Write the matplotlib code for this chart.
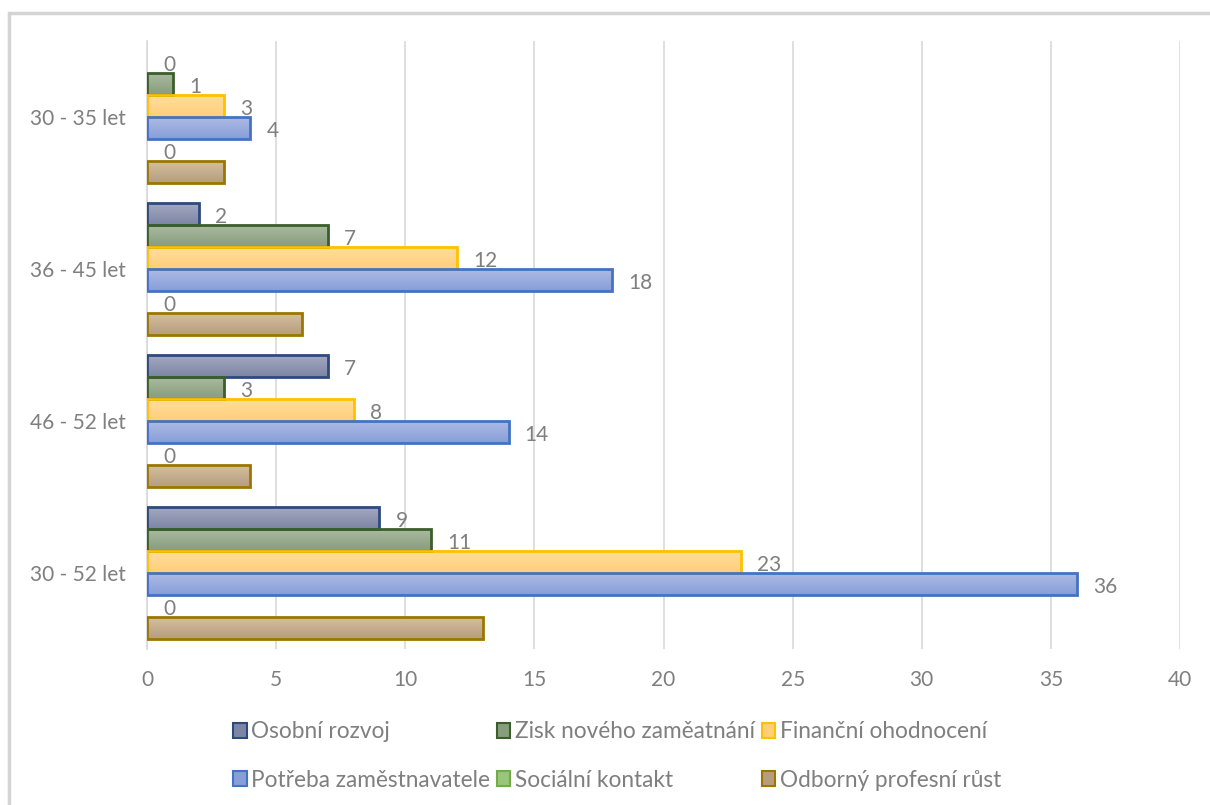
import numpy as np
import matplotlib
matplotlib.use("Agg")
import matplotlib.pyplot as plt
from matplotlib.colors import LinearSegmentedColormap
from matplotlib.patches import Patch, Rectangle

plt.rcParams['font.family'] = ['Lato', 'DejaVu Sans']

categories = ['30 - 35 let', '36 - 45 let', '46 - 52 let', '30 - 52 let']
series_names = ['Osobní rozvoj', 'Zisk nového zaměatnání', 'Finanční ohodnocení',
                'Potřeba zaměstnavatele', 'Sociální kontakt', 'Odborný profesní růst']

osobni_rozvoj = [0, 2, 7, 9]
zisk_zamestnani = [1, 7, 3, 11]
financni_ohodnoceni = [3, 12, 8, 23]
potreba_zamestnavatele = [4, 18, 14, 36]
socialni_kontakt = [0, 0, 0, 0]
odborny_rust = [3, 6, 4, 13]

values = [osobni_rozvoj, zisk_zamestnani, financni_ohodnoceni,
          potreba_zamestnavatele, socialni_kontakt, odborny_rust]
# which series get value labels (the last one has none)
show_labels = [True, True, True, True, True, False]

# (top colour, bottom colour, edge colour)
styles = [
    ('#a4a9c0', '#7c85a5', '#2e4a7d'),
    ('#aabaa0', '#879d7b', '#3b5f2b'),
    ('#ffdd9e', '#ffcf78', '#ffc000'),
    ('#adbbe4', '#879ed9', '#4472c4'),
    ('#b5d99c', '#98c77a', '#70ad47'),
    ('#d3bf9f', '#b79d7c', '#9c7700'),
]

text_grey = '#7f7f7f'
grid_grey = '#d9d9d9'

fig = plt.figure(figsize=(12.1, 8.05), dpi=100)
ax = fig.add_axes([147 / 1210, 1 - 649 / 805, (1180 - 147) / 1210, (649 - 41) / 805])

y = np.arange(len(categories))
n = len(values)
bar_h = 0.862 / n

for i, (vals, (c_top, c_bot, c_edge)) in enumerate(zip(values, styles)):
    offs = -0.431 + (i + 0.5) * bar_h
    edges = [c_edge if v > 0 else 'none' for v in vals]
    bars = ax.barh(y + offs, vals, height=bar_h, facecolor='none',
                   edgecolor=edges, linewidth=2, zorder=3)
    cmap = LinearSegmentedColormap.from_list('g%d' % i, [c_top, c_bot])
    grad = np.linspace(0, 1, 64).reshape(-1, 1)
    for rect, v in zip(bars, vals):
        if v <= 0:
            continue
        x0, y0 = rect.get_x(), rect.get_y()
        im = ax.imshow(grad, extent=(x0, x0 + rect.get_width(), y0, y0 + rect.get_height()),
                       origin='lower', cmap=cmap, aspect='auto', interpolation='bicubic',
                       zorder=2)
        im.set_clip_path(rect)
    if show_labels[i]:
        for yy, v in zip(y + offs, vals):
            ax.annotate(str(v), (v, yy), xytext=(16, -3), textcoords='offset pixels',
                        ha='left', va='center', fontsize=15, color=text_grey)

ax.set_xlim(0, 40)
ax.set_ylim(len(categories) - 0.5, -0.5)
ax.set_xticks(np.arange(0, 41, 5))
ax.set_yticks(y)
ax.set_yticklabels(categories)
ax.tick_params(axis='both', length=0, labelsize=15, colors=text_grey)
ax.tick_params(axis='x', pad=15)
ax.tick_params(axis='y', pad=15)
ax.grid(axis='x', color=grid_grey, linewidth=1.2, zorder=0)
ax.set_axisbelow(True)
for side in ['top', 'right', 'bottom']:
    ax.spines[side].set_visible(False)
ax.spines['left'].set_color(grid_grey)
ax.spines['left'].set_linewidth(1.2)

handles = [Patch(facecolor=s[1], edgecolor=s[2], linewidth=1.5) for s in styles]
order = [0, 3, 1, 4, 2, 5]
fig.legend([handles[k] for k in order], [series_names[k] for k in order],
           loc='center', bbox_to_anchor=(617 / 1210, 1 - 756 / 805), ncol=3,
           frameon=False, fontsize=16.3, labelcolor=text_grey,
           handlelength=0.6, handleheight=0.6, handletextpad=0.2,
           columnspacing=0.3, labelspacing=1.2)

# outer chart border
fig.patches.append(Rectangle((9 / 1210, -0.01), 1.02, 1 - 13 / 805 + 0.01,
                             transform=fig.transFigure, fill=False,
                             edgecolor='#d4d4d4', linewidth=2.5))

fig.savefig('out.png', dpi=100)
